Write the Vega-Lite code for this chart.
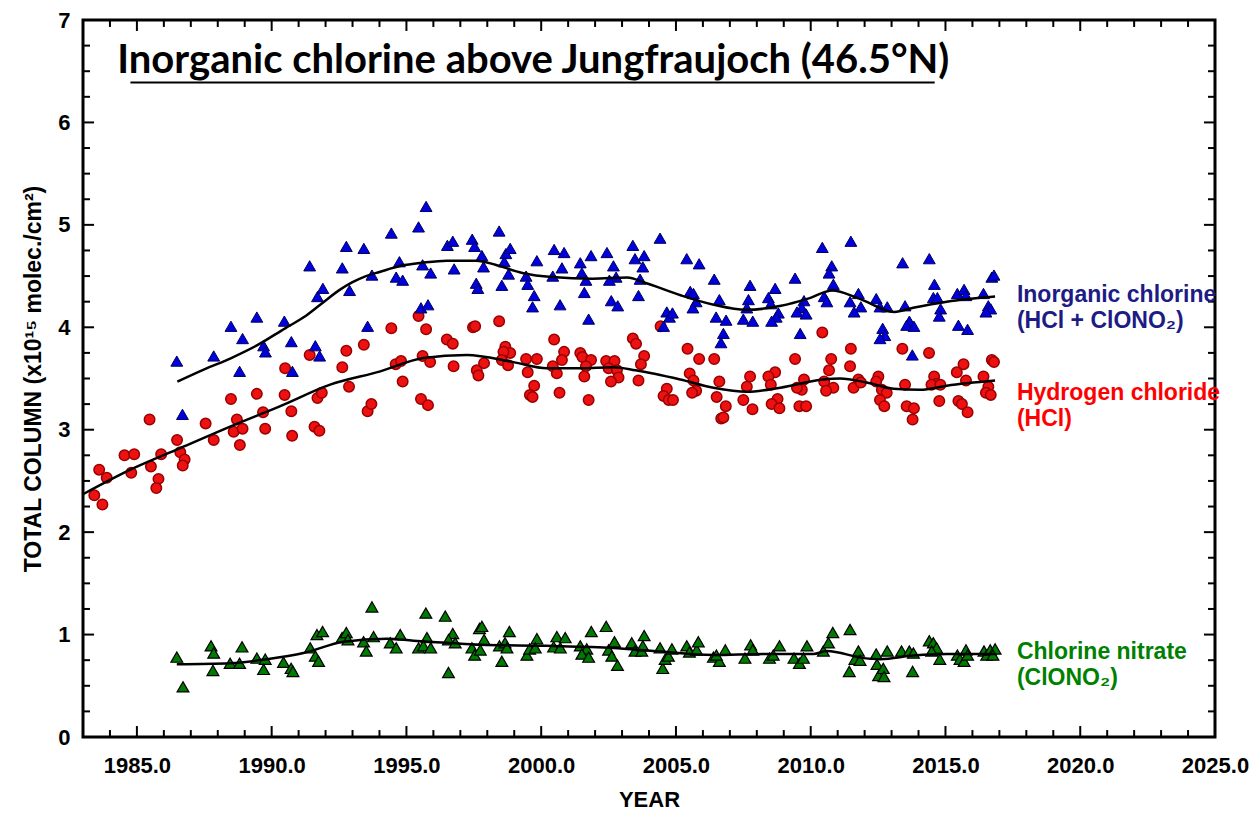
{
  "$schema": "https://vega.github.io/schema/vega-lite/v6.json",
  "width": 1132,
  "height": 717,
  "autosize": "none",
  "padding": {"left": 83, "top": 20, "right": 34, "bottom": 79},
  "background": "white",
  "config": {
    "view": {"stroke": "black", "strokeWidth": 3},
    "font": "Liberation Sans",
    "axis": {"domain": false, "labelOverlap": false, "labelFlush": false}
  },
  "datasets": {
    "xmajor": [{"tick": 1985}, {"tick": 1990}, {"tick": 1995}, {"tick": 2000}, {"tick": 2005}, {"tick": 2010}, {"tick": 2015}, {"tick": 2020}],
    "xminor": [{"tick": 1984}, {"tick": 1986}, {"tick": 1987}, {"tick": 1988}, {"tick": 1989}, {"tick": 1991}, {"tick": 1992}, {"tick": 1993}, {"tick": 1994},
      {"tick": 1996}, {"tick": 1997}, {"tick": 1998}, {"tick": 1999}, {"tick": 2001}, {"tick": 2002}, {"tick": 2003}, {"tick": 2004},
      {"tick": 2006}, {"tick": 2007}, {"tick": 2008}, {"tick": 2009}, {"tick": 2011}, {"tick": 2012}, {"tick": 2013}, {"tick": 2014},
      {"tick": 2016}, {"tick": 2017}, {"tick": 2018}, {"tick": 2019}, {"tick": 2021}, {"tick": 2022}, {"tick": 2023}, {"tick": 2024}],
    "ymajor": [{"tick": 1}, {"tick": 2}, {"tick": 3}, {"tick": 4}, {"tick": 5}, {"tick": 6}],
    "yminor": [{"tick": 0.25}, {"tick": 0.5}, {"tick": 0.75}, {"tick": 1.25}, {"tick": 1.5}, {"tick": 1.75}, {"tick": 2.25}, {"tick": 2.5}, {"tick": 2.75},
      {"tick": 3.25}, {"tick": 3.5}, {"tick": 3.75}, {"tick": 4.25}, {"tick": 4.5}, {"tick": 4.75}, {"tick": 5.25}, {"tick": 5.5}, {"tick": 5.75},
      {"tick": 6.25}, {"tick": 6.5}, {"tick": 6.75}],
    "cly": [
      {"year": 1986.48, "value": 3.67}, {"year": 1986.69, "value": 3.15}, {"year": 1987.85, "value": 3.72}, {"year": 1988.49, "value": 4.01},
      {"year": 1988.92, "value": 3.89}, {"year": 1988.81, "value": 3.57}, {"year": 1989.45, "value": 4.10}, {"year": 1989.70, "value": 3.82},
      {"year": 1989.77, "value": 3.76}, {"year": 1990.47, "value": 4.06}, {"year": 1990.73, "value": 3.86}, {"year": 1990.77, "value": 3.57},
      {"year": 1991.41, "value": 4.60}, {"year": 1991.62, "value": 3.82}, {"year": 1991.78, "value": 3.72}, {"year": 1991.70, "value": 4.30},
      {"year": 1991.90, "value": 4.38}, {"year": 1992.62, "value": 4.58}, {"year": 1992.77, "value": 4.79}, {"year": 1992.89, "value": 4.36},
      {"year": 1993.42, "value": 4.77}, {"year": 1993.56, "value": 4.01}, {"year": 1993.72, "value": 4.51},
      {"year": 1995.73, "value": 5.18}, {"year": 1995.45, "value": 4.98}, {"year": 1994.44, "value": 4.92}, {"year": 1994.74, "value": 4.64},
      {"year": 1994.62, "value": 4.49}, {"year": 1994.86, "value": 4.46}, {"year": 1995.60, "value": 4.61}, {"year": 1995.90, "value": 4.53},
      {"year": 1995.54, "value": 4.19}, {"year": 1995.80, "value": 4.22}, {"year": 1996.52, "value": 4.80}, {"year": 1996.72, "value": 4.84},
      {"year": 1996.77, "value": 4.57}, {"year": 1997.44, "value": 4.86}, {"year": 1997.53, "value": 4.79}, {"year": 1997.80, "value": 4.70},
      {"year": 1997.86, "value": 4.59}, {"year": 1997.59, "value": 4.43}, {"year": 1997.65, "value": 4.38}, {"year": 1998.44, "value": 4.94},
      {"year": 1998.69, "value": 4.72}, {"year": 1998.85, "value": 4.77}, {"year": 1998.63, "value": 4.64}, {"year": 1998.79, "value": 4.52},
      {"year": 1998.54, "value": 4.41}, {"year": 1999.44, "value": 4.50}, {"year": 1999.50, "value": 4.42}, {"year": 1999.84, "value": 4.65},
      {"year": 1999.74, "value": 4.31}, {"year": 1999.68, "value": 4.20}, {"year": 2000.48, "value": 4.76}, {"year": 2000.85, "value": 4.73},
      {"year": 2000.77, "value": 4.58}, {"year": 2000.43, "value": 4.50}, {"year": 2000.70, "value": 4.22}, {"year": 2001.45, "value": 4.63},
      {"year": 2001.85, "value": 4.70}, {"year": 2001.51, "value": 4.53}, {"year": 2001.66, "value": 4.46}, {"year": 2001.60, "value": 4.34},
      {"year": 2001.76, "value": 4.08}, {"year": 2002.44, "value": 4.73}, {"year": 2002.68, "value": 4.60}, {"year": 2002.78, "value": 4.49},
      {"year": 2002.53, "value": 4.46}, {"year": 2002.60, "value": 4.26}, {"year": 2002.84, "value": 4.21}, {"year": 2003.40, "value": 4.80},
      {"year": 2003.48, "value": 4.67}, {"year": 2003.82, "value": 4.70}, {"year": 2003.77, "value": 4.59}, {"year": 2003.67, "value": 4.47},
      {"year": 2003.61, "value": 4.31}, {"year": 2004.41, "value": 4.87}, {"year": 2004.66, "value": 4.15}, {"year": 2004.76, "value": 4.10},
      {"year": 2004.87, "value": 4.14}, {"year": 2004.54, "value": 4.01},
      {"year": 2005.40, "value": 4.67}, {"year": 2005.86, "value": 4.62}, {"year": 2005.53, "value": 4.35}, {"year": 2005.65, "value": 4.33},
      {"year": 2005.75, "value": 4.25}, {"year": 2005.63, "value": 4.19}, {"year": 2006.42, "value": 4.47}, {"year": 2006.61, "value": 4.27},
      {"year": 2006.49, "value": 4.10}, {"year": 2006.86, "value": 4.07}, {"year": 2006.76, "value": 3.94}, {"year": 2006.67, "value": 3.85},
      {"year": 2007.75, "value": 4.41}, {"year": 2007.69, "value": 4.27}, {"year": 2007.63, "value": 4.19}, {"year": 2007.50, "value": 4.08},
      {"year": 2007.85, "value": 4.06}, {"year": 2008.68, "value": 4.38}, {"year": 2008.43, "value": 4.29}, {"year": 2008.52, "value": 4.23},
      {"year": 2008.80, "value": 4.14}, {"year": 2008.72, "value": 4.10}, {"year": 2008.55, "value": 4.06}, {"year": 2009.42, "value": 4.48},
      {"year": 2009.75, "value": 4.26}, {"year": 2009.67, "value": 4.19}, {"year": 2009.49, "value": 4.15}, {"year": 2009.83, "value": 4.13},
      {"year": 2009.61, "value": 3.94}, {"year": 2010.43, "value": 4.78}, {"year": 2010.78, "value": 4.60}, {"year": 2010.68, "value": 4.53},
      {"year": 2010.84, "value": 4.42}, {"year": 2010.50, "value": 4.30}, {"year": 2010.60, "value": 4.25}, {"year": 2011.49, "value": 4.84},
      {"year": 2011.77, "value": 4.33}, {"year": 2011.46, "value": 4.25}, {"year": 2011.86, "value": 4.20}, {"year": 2011.61, "value": 4.15},
      {"year": 2012.43, "value": 4.28}, {"year": 2012.57, "value": 4.20}, {"year": 2012.84, "value": 4.20}, {"year": 2012.67, "value": 3.99},
      {"year": 2012.75, "value": 3.92}, {"year": 2012.57, "value": 3.89}, {"year": 2013.41, "value": 4.63}, {"year": 2013.50, "value": 4.21},
      {"year": 2013.66, "value": 4.06}, {"year": 2013.56, "value": 4.02}, {"year": 2013.83, "value": 4.01}, {"year": 2013.77, "value": 3.73},
      {"year": 2014.40, "value": 4.67}, {"year": 2014.59, "value": 4.42}, {"year": 2014.55, "value": 4.29}, {"year": 2014.70, "value": 4.29},
      {"year": 2014.82, "value": 4.18}, {"year": 2014.77, "value": 4.11}, {"year": 2015.44, "value": 4.33}, {"year": 2015.69, "value": 4.37},
      {"year": 2015.76, "value": 4.31}, {"year": 2015.48, "value": 4.02}, {"year": 2015.82, "value": 3.98}, {"year": 2016.41, "value": 4.33},
      {"year": 2016.72, "value": 4.49}, {"year": 2016.80, "value": 4.51}, {"year": 2016.59, "value": 4.21}, {"year": 2016.68, "value": 4.18},
      {"year": 2016.50, "value": 4.15}
    ],
    "hcl": [
      {"year": 1983.42, "value": 2.36}, {"year": 1983.72, "value": 2.27}, {"year": 1983.60, "value": 2.61}, {"year": 1983.88, "value": 2.53},
      {"year": 1984.54, "value": 2.75}, {"year": 1984.90, "value": 2.76}, {"year": 1984.79, "value": 2.58}, {"year": 1985.47, "value": 3.10},
      {"year": 1985.52, "value": 2.64}, {"year": 1985.80, "value": 2.52}, {"year": 1985.72, "value": 2.43}, {"year": 1985.90, "value": 2.76},
      {"year": 1986.49, "value": 2.90}, {"year": 1986.61, "value": 2.78}, {"year": 1986.77, "value": 2.71}, {"year": 1986.70, "value": 2.65},
      {"year": 1987.55, "value": 3.06}, {"year": 1987.85, "value": 2.90}, {"year": 1988.49, "value": 3.30}, {"year": 1988.71, "value": 3.10},
      {"year": 1988.59, "value": 2.98}, {"year": 1988.92, "value": 3.01}, {"year": 1988.82, "value": 2.85}, {"year": 1989.45, "value": 3.35},
      {"year": 1989.68, "value": 3.17}, {"year": 1989.76, "value": 3.01}, {"year": 1990.48, "value": 3.34}, {"year": 1990.50, "value": 3.60},
      {"year": 1990.73, "value": 3.18}, {"year": 1990.76, "value": 2.94}, {"year": 1991.41, "value": 3.73}, {"year": 1991.59, "value": 3.03},
      {"year": 1991.77, "value": 2.99}, {"year": 1991.70, "value": 3.31}, {"year": 1991.86, "value": 3.36}, {"year": 1992.62, "value": 3.61},
      {"year": 1992.77, "value": 3.77}, {"year": 1992.87, "value": 3.42}, {"year": 1993.42, "value": 3.83}, {"year": 1993.56, "value": 3.18},
      {"year": 1993.70, "value": 3.25},
      {"year": 1994.44, "value": 3.99}, {"year": 1995.45, "value": 4.11}, {"year": 1995.73, "value": 3.98}, {"year": 1994.60, "value": 3.64},
      {"year": 1994.80, "value": 3.67}, {"year": 1994.86, "value": 3.47}, {"year": 1995.60, "value": 3.72}, {"year": 1995.88, "value": 3.66},
      {"year": 1995.54, "value": 3.30}, {"year": 1995.80, "value": 3.24}, {"year": 1996.50, "value": 3.88}, {"year": 1996.72, "value": 3.84},
      {"year": 1996.75, "value": 3.62}, {"year": 1997.47, "value": 4.00}, {"year": 1997.55, "value": 4.01}, {"year": 1998.44, "value": 4.06},
      {"year": 1997.61, "value": 3.58}, {"year": 1997.67, "value": 3.53}, {"year": 1997.88, "value": 3.65}, {"year": 1998.67, "value": 3.81},
      {"year": 1998.85, "value": 3.75}, {"year": 1998.60, "value": 3.76}, {"year": 1998.54, "value": 3.68}, {"year": 1998.77, "value": 3.63},
      {"year": 1999.44, "value": 3.69}, {"year": 1999.84, "value": 3.69}, {"year": 1999.50, "value": 3.56}, {"year": 1999.74, "value": 3.43},
      {"year": 1999.58, "value": 3.34}, {"year": 1999.68, "value": 3.32}, {"year": 2000.48, "value": 3.88}, {"year": 2000.85, "value": 3.76},
      {"year": 2000.77, "value": 3.68}, {"year": 2000.43, "value": 3.62}, {"year": 2000.58, "value": 3.55}, {"year": 2000.68, "value": 3.36},
      {"year": 2001.45, "value": 3.75}, {"year": 2001.53, "value": 3.71}, {"year": 2001.85, "value": 3.68}, {"year": 2001.66, "value": 3.62},
      {"year": 2001.60, "value": 3.52}, {"year": 2001.76, "value": 3.29}, {"year": 2002.41, "value": 3.67}, {"year": 2002.72, "value": 3.67},
      {"year": 2002.50, "value": 3.60}, {"year": 2002.81, "value": 3.58}, {"year": 2002.87, "value": 3.51}, {"year": 2002.59, "value": 3.47},
      {"year": 2003.40, "value": 3.89}, {"year": 2003.52, "value": 3.84}, {"year": 2003.82, "value": 3.72}, {"year": 2003.70, "value": 3.64},
      {"year": 2003.61, "value": 3.48}, {"year": 2004.43, "value": 4.01}, {"year": 2004.66, "value": 3.40}, {"year": 2004.54, "value": 3.33},
      {"year": 2004.73, "value": 3.29}, {"year": 2004.89, "value": 3.29},
      {"year": 2005.43, "value": 3.79}, {"year": 2005.86, "value": 3.69}, {"year": 2006.42, "value": 3.69}, {"year": 2005.51, "value": 3.55},
      {"year": 2005.65, "value": 3.48}, {"year": 2005.75, "value": 3.38}, {"year": 2005.60, "value": 3.36}, {"year": 2006.61, "value": 3.47},
      {"year": 2006.51, "value": 3.32}, {"year": 2006.85, "value": 3.23}, {"year": 2006.68, "value": 3.11}, {"year": 2006.76, "value": 3.12},
      {"year": 2007.75, "value": 3.52}, {"year": 2007.63, "value": 3.42}, {"year": 2007.50, "value": 3.29}, {"year": 2007.84, "value": 3.20},
      {"year": 2008.68, "value": 3.56}, {"year": 2008.43, "value": 3.52}, {"year": 2008.52, "value": 3.44}, {"year": 2008.77, "value": 3.30},
      {"year": 2008.55, "value": 3.25}, {"year": 2008.84, "value": 3.21}, {"year": 2009.42, "value": 3.69}, {"year": 2009.75, "value": 3.49},
      {"year": 2009.67, "value": 3.39}, {"year": 2009.49, "value": 3.41}, {"year": 2009.58, "value": 3.23}, {"year": 2009.83, "value": 3.23},
      {"year": 2010.43, "value": 3.95}, {"year": 2010.76, "value": 3.69}, {"year": 2010.68, "value": 3.58}, {"year": 2010.50, "value": 3.47},
      {"year": 2010.84, "value": 3.41}, {"year": 2010.57, "value": 3.38}, {"year": 2011.49, "value": 3.79}, {"year": 2011.46, "value": 3.62},
      {"year": 2011.77, "value": 3.49}, {"year": 2011.59, "value": 3.41}, {"year": 2011.86, "value": 3.46}, {"year": 2012.51, "value": 3.52},
      {"year": 2012.43, "value": 3.47}, {"year": 2012.64, "value": 3.39}, {"year": 2012.82, "value": 3.36}, {"year": 2012.57, "value": 3.29},
      {"year": 2012.73, "value": 3.23}, {"year": 2013.40, "value": 3.79}, {"year": 2013.50, "value": 3.44}, {"year": 2013.56, "value": 3.23},
      {"year": 2013.83, "value": 3.21}, {"year": 2013.78, "value": 3.10}, {"year": 2014.39, "value": 3.75}, {"year": 2014.58, "value": 3.52},
      {"year": 2014.67, "value": 3.45}, {"year": 2014.48, "value": 3.44}, {"year": 2014.81, "value": 3.44}, {"year": 2014.77, "value": 3.28},
      {"year": 2015.42, "value": 3.56}, {"year": 2015.67, "value": 3.64}, {"year": 2015.76, "value": 3.48}, {"year": 2015.48, "value": 3.28},
      {"year": 2015.61, "value": 3.25}, {"year": 2015.82, "value": 3.17}, {"year": 2016.41, "value": 3.52}, {"year": 2016.72, "value": 3.68},
      {"year": 2016.80, "value": 3.66}, {"year": 2016.59, "value": 3.42}, {"year": 2016.50, "value": 3.36}, {"year": 2016.68, "value": 3.34}
    ],
    "clono2": [
      {"year": 1986.48, "value": 0.78}, {"year": 1986.71, "value": 0.49}, {"year": 1987.75, "value": 0.89}, {"year": 1987.85, "value": 0.82},
      {"year": 1987.82, "value": 0.65}, {"year": 1988.46, "value": 0.72}, {"year": 1988.81, "value": 0.72}, {"year": 1988.90, "value": 0.88},
      {"year": 1989.45, "value": 0.77}, {"year": 1989.76, "value": 0.76}, {"year": 1989.70, "value": 0.66}, {"year": 1990.44, "value": 0.73},
      {"year": 1990.72, "value": 0.67}, {"year": 1990.79, "value": 0.64}, {"year": 1991.43, "value": 0.87}, {"year": 1991.68, "value": 1.00},
      {"year": 1991.89, "value": 1.03}, {"year": 1991.62, "value": 0.79}, {"year": 1991.74, "value": 0.74}, {"year": 1992.61, "value": 0.97},
      {"year": 1992.77, "value": 1.02}, {"year": 1992.83, "value": 0.95}, {"year": 1993.41, "value": 0.93}, {"year": 1993.51, "value": 0.84},
      {"year": 1993.72, "value": 1.27}, {"year": 1993.78, "value": 0.98}, {"year": 1994.40, "value": 0.92}, {"year": 1994.62, "value": 0.87},
      {"year": 1994.77, "value": 1.00}, {"year": 1995.45, "value": 0.87}, {"year": 1995.72, "value": 1.21}, {"year": 1995.76, "value": 0.97},
      {"year": 1995.63, "value": 0.89}, {"year": 1995.90, "value": 0.87}, {"year": 1996.44, "value": 1.18}, {"year": 1996.56, "value": 0.63},
      {"year": 1996.72, "value": 1.01}, {"year": 1996.56, "value": 0.95}, {"year": 1996.81, "value": 0.92}, {"year": 1997.43, "value": 0.87},
      {"year": 1997.53, "value": 0.80}, {"year": 1997.71, "value": 1.06},
      {"year": 1997.80, "value": 1.08}, {"year": 1997.88, "value": 0.95}, {"year": 1997.74, "value": 0.85}, {"year": 1998.45, "value": 0.89},
      {"year": 1998.66, "value": 0.92}, {"year": 1998.82, "value": 1.03}, {"year": 1998.73, "value": 0.87}, {"year": 1998.54, "value": 0.74},
      {"year": 1999.47, "value": 0.80}, {"year": 1999.57, "value": 0.86}, {"year": 1999.84, "value": 0.96}, {"year": 1999.78, "value": 0.87},
      {"year": 2000.46, "value": 0.88}, {"year": 2000.58, "value": 0.98}, {"year": 2000.89, "value": 0.97}, {"year": 2000.71, "value": 0.87},
      {"year": 2001.45, "value": 0.89}, {"year": 2001.69, "value": 0.86}, {"year": 2001.51, "value": 0.81}, {"year": 2001.76, "value": 0.78},
      {"year": 2001.86, "value": 1.03}, {"year": 2002.41, "value": 1.08}, {"year": 2002.50, "value": 0.85}, {"year": 2002.62, "value": 0.79},
      {"year": 2002.72, "value": 0.93}, {"year": 2002.83, "value": 0.70}, {"year": 2003.36, "value": 0.92}, {"year": 2003.48, "value": 0.84},
      {"year": 2003.73, "value": 0.84}, {"year": 2003.82, "value": 0.99}, {"year": 2003.77, "value": 0.89}, {"year": 2004.41, "value": 0.87},
      {"year": 2004.51, "value": 0.67}, {"year": 2004.60, "value": 0.76}, {"year": 2004.72, "value": 0.79}, {"year": 2004.85, "value": 0.86},
      {"year": 2005.40, "value": 0.89}, {"year": 2005.50, "value": 0.83}, {"year": 2005.77, "value": 0.85}, {"year": 2005.83, "value": 0.93},
      {"year": 2006.39, "value": 0.78}, {"year": 2006.61, "value": 0.74}, {"year": 2006.83, "value": 0.85}, {"year": 2006.50, "value": 0.80},
      {"year": 2007.56, "value": 0.77}, {"year": 2007.77, "value": 0.90}, {"year": 2007.85, "value": 0.85}, {"year": 2008.47, "value": 0.77},
      {"year": 2008.61, "value": 0.80}, {"year": 2008.84, "value": 0.89}, {"year": 2009.38, "value": 0.77}, {"year": 2009.58, "value": 0.72},
      {"year": 2009.73, "value": 0.77}, {"year": 2009.86, "value": 0.89}, {"year": 2010.47, "value": 0.84}, {"year": 2010.66, "value": 0.92},
      {"year": 2010.82, "value": 1.02}, {"year": 2011.46, "value": 1.05}, {"year": 2011.43, "value": 0.64}, {"year": 2011.64, "value": 0.76},
      {"year": 2011.77, "value": 0.84}, {"year": 2011.83, "value": 0.75}, {"year": 2012.43, "value": 0.81}, {"year": 2012.46, "value": 0.71},
      {"year": 2012.52, "value": 0.60}, {"year": 2012.69, "value": 0.67}, {"year": 2012.72, "value": 0.59}, {"year": 2012.84, "value": 0.84},
      {"year": 2013.37, "value": 0.84}, {"year": 2013.66, "value": 0.84}, {"year": 2013.81, "value": 0.82}, {"year": 2013.78, "value": 0.64},
      {"year": 2014.40, "value": 0.94}, {"year": 2014.55, "value": 0.92}, {"year": 2014.67, "value": 0.87}, {"year": 2014.79, "value": 0.76},
      {"year": 2014.49, "value": 0.84}, {"year": 2015.44, "value": 0.80}, {"year": 2015.54, "value": 0.76}, {"year": 2015.76, "value": 0.85},
      {"year": 2015.69, "value": 0.74}, {"year": 2015.82, "value": 0.80}, {"year": 2016.43, "value": 0.84}, {"year": 2016.53, "value": 0.80},
      {"year": 2016.66, "value": 0.85}, {"year": 2016.84, "value": 0.86}, {"year": 2016.76, "value": 0.80}
    ],
    "cly_fit": [
      {"year": 1986.5, "value": 3.47}, {"year": 1987.5, "value": 3.59}, {"year": 1988.5, "value": 3.70}, {"year": 1989.5, "value": 3.83},
      {"year": 1990.5, "value": 3.99}, {"year": 1991.2, "value": 4.10}, {"year": 1991.8, "value": 4.22}, {"year": 1992.55, "value": 4.37},
      {"year": 1993.0, "value": 4.44}, {"year": 1993.5, "value": 4.50}, {"year": 1994.0, "value": 4.54}, {"year": 1994.8, "value": 4.60},
      {"year": 1995.6, "value": 4.63}, {"year": 1996.5, "value": 4.65}, {"year": 1997.6, "value": 4.65}, {"year": 1998.3, "value": 4.61},
      {"year": 1999.3, "value": 4.53}, {"year": 2000.4, "value": 4.49}, {"year": 2001.9, "value": 4.475}, {"year": 2003.2, "value": 4.485},
      {"year": 2003.8, "value": 4.44}, {"year": 2005.2, "value": 4.31}, {"year": 2006.4, "value": 4.22}, {"year": 2007.6, "value": 4.17},
      {"year": 2008.9, "value": 4.21}, {"year": 2009.9, "value": 4.28}, {"year": 2010.8, "value": 4.36}, {"year": 2011.8, "value": 4.28},
      {"year": 2013.1, "value": 4.15}, {"year": 2013.8, "value": 4.19}, {"year": 2015.05, "value": 4.25}, {"year": 2016.84, "value": 4.30}
    ],
    "hcl_fit": [
      {"year": 1983.0, "value": 2.37}, {"year": 1984.76, "value": 2.61}, {"year": 1986.61, "value": 2.82}, {"year": 1988.46, "value": 3.03},
      {"year": 1990.32, "value": 3.23}, {"year": 1992.17, "value": 3.44}, {"year": 1994.03, "value": 3.57}, {"year": 1995.63, "value": 3.70},
      {"year": 1997.24, "value": 3.73}, {"year": 1998.97, "value": 3.66}, {"year": 2000.21, "value": 3.60}, {"year": 2001.45, "value": 3.60},
      {"year": 2002.68, "value": 3.61}, {"year": 2003.5, "value": 3.58}, {"year": 2005.16, "value": 3.49}, {"year": 2006.39, "value": 3.41},
      {"year": 2007.63, "value": 3.37}, {"year": 2008.87, "value": 3.41}, {"year": 2010.47, "value": 3.49}, {"year": 2011.09, "value": 3.50},
      {"year": 2012.08, "value": 3.46}, {"year": 2013.07, "value": 3.40}, {"year": 2014.06, "value": 3.39}, {"year": 2015.05, "value": 3.43},
      {"year": 2016.84, "value": 3.48}
    ],
    "clono2_fit": [
      {"year": 1986.48, "value": 0.71}, {"year": 1988.46, "value": 0.72}, {"year": 1989.82, "value": 0.76}, {"year": 1991.18, "value": 0.82},
      {"year": 1992.67, "value": 0.93}, {"year": 1994.28, "value": 0.96}, {"year": 1995.26, "value": 0.94}, {"year": 1996.5, "value": 0.92},
      {"year": 1997.74, "value": 0.90}, {"year": 2000.21, "value": 0.89}, {"year": 2002.68, "value": 0.87}, {"year": 2004.17, "value": 0.84},
      {"year": 2006.39, "value": 0.80}, {"year": 2008.25, "value": 0.81}, {"year": 2010.1, "value": 0.81}, {"year": 2010.6, "value": 0.84},
      {"year": 2011.97, "value": 0.77}, {"year": 2012.58, "value": 0.76}, {"year": 2013.81, "value": 0.795}, {"year": 2015.05, "value": 0.81},
      {"year": 2016.84, "value": 0.81}
    ]
  },
  "resolve": {"axis": {"x": "independent", "y": "independent"}},
  "layer": [
    {
      "data": {"name": "hcl"},
      "mark": {"type": "point", "shape": "circle", "filled": true, "fill": "#ee1111", "stroke": "#990000", "strokeWidth": 1.5, "size": 110, "opacity": 1},
      "encoding": {
        "x": {"field": "year", "type": "quantitative", "scale": {"domain": [1983, 2025], "nice": false, "zero": false},
          "axis": {"orient": "bottom", "ticks": false, "grid": false, "labelOverlap": false,
            "values": [1985, 1990, 1995, 2000, 2005, 2010, 2015, 2020, 2025],
            "format": ".1f",
            "labelFont": "Liberation Sans", "labelFontWeight": "bold", "labelFontSize": 22, "labelColor": "black", "labelPadding": 18,
            "title": "YEAR", "titleFont": "Liberation Sans", "titleFontWeight": "bold", "titleFontSize": 22, "titleColor": "black", "titlePadding": 13}},
        "y": {"field": "value", "type": "quantitative", "scale": {"domain": [0, 7], "nice": false, "zero": false},
          "axis": {"orient": "left", "ticks": false, "grid": false, "labelOverlap": false,
            "values": [0, 1, 2, 3, 4, 5, 6, 7],
            "format": "d",
            "labelFont": "Liberation Sans", "labelFontWeight": "bold", "labelFontSize": 22, "labelColor": "black", "labelPadding": 13,
            "title": "TOTAL COLUMN (x10¹⁵ molec./cm²)", "titleFont": "Liberation Sans", "titleFontWeight": "bold", "titleFontSize": 23, "titleColor": "black", "titlePadding": 12}}
      }
    },
    {
      "data": {"name": "xmajor"},
      "mark": {"type": "rule", "color": "black", "strokeWidth": 2},
      "encoding": {
        "x": {"field": "tick", "type": "quantitative", "axis": null},
        "y": {"datum": 0, "type": "quantitative", "axis": null},
        "y2": {"datum": 0.107}
      }
    },
    {
      "data": {"name": "xmajor"},
      "mark": {"type": "rule", "color": "black", "strokeWidth": 2},
      "encoding": {
        "x": {"field": "tick", "type": "quantitative", "axis": null},
        "y": {"datum": 7, "type": "quantitative", "axis": null},
        "y2": {"datum": 6.893}
      }
    },
    {
      "data": {"name": "xminor"},
      "mark": {"type": "rule", "color": "black", "strokeWidth": 2},
      "encoding": {
        "x": {"field": "tick", "type": "quantitative", "axis": null},
        "y": {"datum": 0, "type": "quantitative", "axis": null},
        "y2": {"datum": 0.068}
      }
    },
    {
      "data": {"name": "xminor"},
      "mark": {"type": "rule", "color": "black", "strokeWidth": 2},
      "encoding": {
        "x": {"field": "tick", "type": "quantitative", "axis": null},
        "y": {"datum": 7, "type": "quantitative", "axis": null},
        "y2": {"datum": 6.932}
      }
    },
    {
      "data": {"name": "ymajor"},
      "mark": {"type": "rule", "color": "black", "strokeWidth": 2},
      "encoding": {
        "y": {"field": "tick", "type": "quantitative", "axis": null},
        "x": {"datum": 1983, "type": "quantitative", "axis": null},
        "x2": {"datum": 1983.41}
      }
    },
    {
      "data": {"name": "ymajor"},
      "mark": {"type": "rule", "color": "black", "strokeWidth": 2},
      "encoding": {
        "y": {"field": "tick", "type": "quantitative", "axis": null},
        "x": {"datum": 2025, "type": "quantitative", "axis": null},
        "x2": {"datum": 2024.59}
      }
    },
    {
      "data": {"name": "yminor"},
      "mark": {"type": "rule", "color": "black", "strokeWidth": 2},
      "encoding": {
        "y": {"field": "tick", "type": "quantitative", "axis": null},
        "x": {"datum": 1983, "type": "quantitative", "axis": null},
        "x2": {"datum": 1983.26}
      }
    },
    {
      "data": {"name": "yminor"},
      "mark": {"type": "rule", "color": "black", "strokeWidth": 2},
      "encoding": {
        "y": {"field": "tick", "type": "quantitative", "axis": null},
        "x": {"datum": 2025, "type": "quantitative", "axis": null},
        "x2": {"datum": 2024.74}
      }
    },
    {
      "data": {"name": "cly"},
      "mark": {"type": "point", "shape": "triangle-up", "filled": true, "fill": "#0000dd", "stroke": "#00005a", "strokeWidth": 1, "size": 140, "opacity": 1},
      "encoding": {
        "x": {"field": "year", "type": "quantitative", "axis": null},
        "y": {"field": "value", "type": "quantitative", "axis": null}
      }
    },
    {
      "data": {"name": "clono2"},
      "mark": {"type": "point", "shape": "triangle-up", "filled": true, "fill": "#007a00", "stroke": "black", "strokeWidth": 1.2, "size": 140, "opacity": 1},
      "encoding": {
        "x": {"field": "year", "type": "quantitative", "axis": null},
        "y": {"field": "value", "type": "quantitative", "axis": null}
      }
    },
    {
      "data": {"name": "cly_fit"},
      "mark": {"type": "line", "color": "black", "strokeWidth": 2.5, "interpolate": "monotone"},
      "encoding": {
        "x": {"field": "year", "type": "quantitative", "axis": null},
        "y": {"field": "value", "type": "quantitative", "axis": null}
      }
    },
    {
      "data": {"name": "hcl_fit"},
      "mark": {"type": "line", "color": "black", "strokeWidth": 2.5, "interpolate": "monotone"},
      "encoding": {
        "x": {"field": "year", "type": "quantitative", "axis": null},
        "y": {"field": "value", "type": "quantitative", "axis": null}
      }
    },
    {
      "data": {"name": "clono2_fit"},
      "mark": {"type": "line", "color": "black", "strokeWidth": 2.5, "interpolate": "monotone"},
      "encoding": {
        "x": {"field": "year", "type": "quantitative", "axis": null},
        "y": {"field": "value", "type": "quantitative", "axis": null}
      }
    },
    {
      "data": {"values": [{}]},
      "mark": {"type": "text", "text": "Inorganic chlorine above Jungfraujoch (46.5°N)", "font": "Lato", "fontWeight": "bold", "fontSize": 40, "align": "left", "baseline": "alphabetic", "color": "black"},
      "encoding": {
        "x": {"datum": 1984.27, "type": "quantitative", "axis": null},
        "y": {"datum": 6.48, "type": "quantitative", "axis": null}
      }
    },
    {
      "data": {"values": [{}]},
      "mark": {"type": "rule", "color": "black", "strokeWidth": 2},
      "encoding": {
        "x": {"datum": 1984.76, "type": "quantitative", "axis": null},
        "x2": {"datum": 2014.6},
        "y": {"datum": 6.39, "type": "quantitative", "axis": null}
      }
    },
    {
      "data": {"values": [{}]},
      "mark": {"type": "text", "text": ["Inorganic chlorine", "(HCl + ClONO₂)"], "font": "Liberation Sans", "fontWeight": "bold", "fontSize": 23, "lineHeight": 26, "align": "left", "baseline": "middle", "color": "#1c1c84"},
      "encoding": {
        "x": {"datum": 2017.65, "type": "quantitative", "axis": null},
        "y": {"datum": 4.32, "type": "quantitative", "axis": null}
      }
    },
    {
      "data": {"values": [{}]},
      "mark": {"type": "text", "text": ["Hydrogen chloride", "(HCl)"], "font": "Liberation Sans", "fontWeight": "bold", "fontSize": 23, "lineHeight": 26, "align": "left", "baseline": "middle", "color": "#ff0000"},
      "encoding": {
        "x": {"datum": 2017.65, "type": "quantitative", "axis": null},
        "y": {"datum": 3.36, "type": "quantitative", "axis": null}
      }
    },
    {
      "data": {"values": [{}]},
      "mark": {"type": "text", "text": ["Chlorine nitrate", "(ClONO₂)"], "font": "Liberation Sans", "fontWeight": "bold", "fontSize": 23, "lineHeight": 26, "align": "left", "baseline": "middle", "color": "#008000"},
      "encoding": {
        "x": {"datum": 2017.65, "type": "quantitative", "axis": null},
        "y": {"datum": 0.83, "type": "quantitative", "axis": null}
      }
    }
  ]
}
